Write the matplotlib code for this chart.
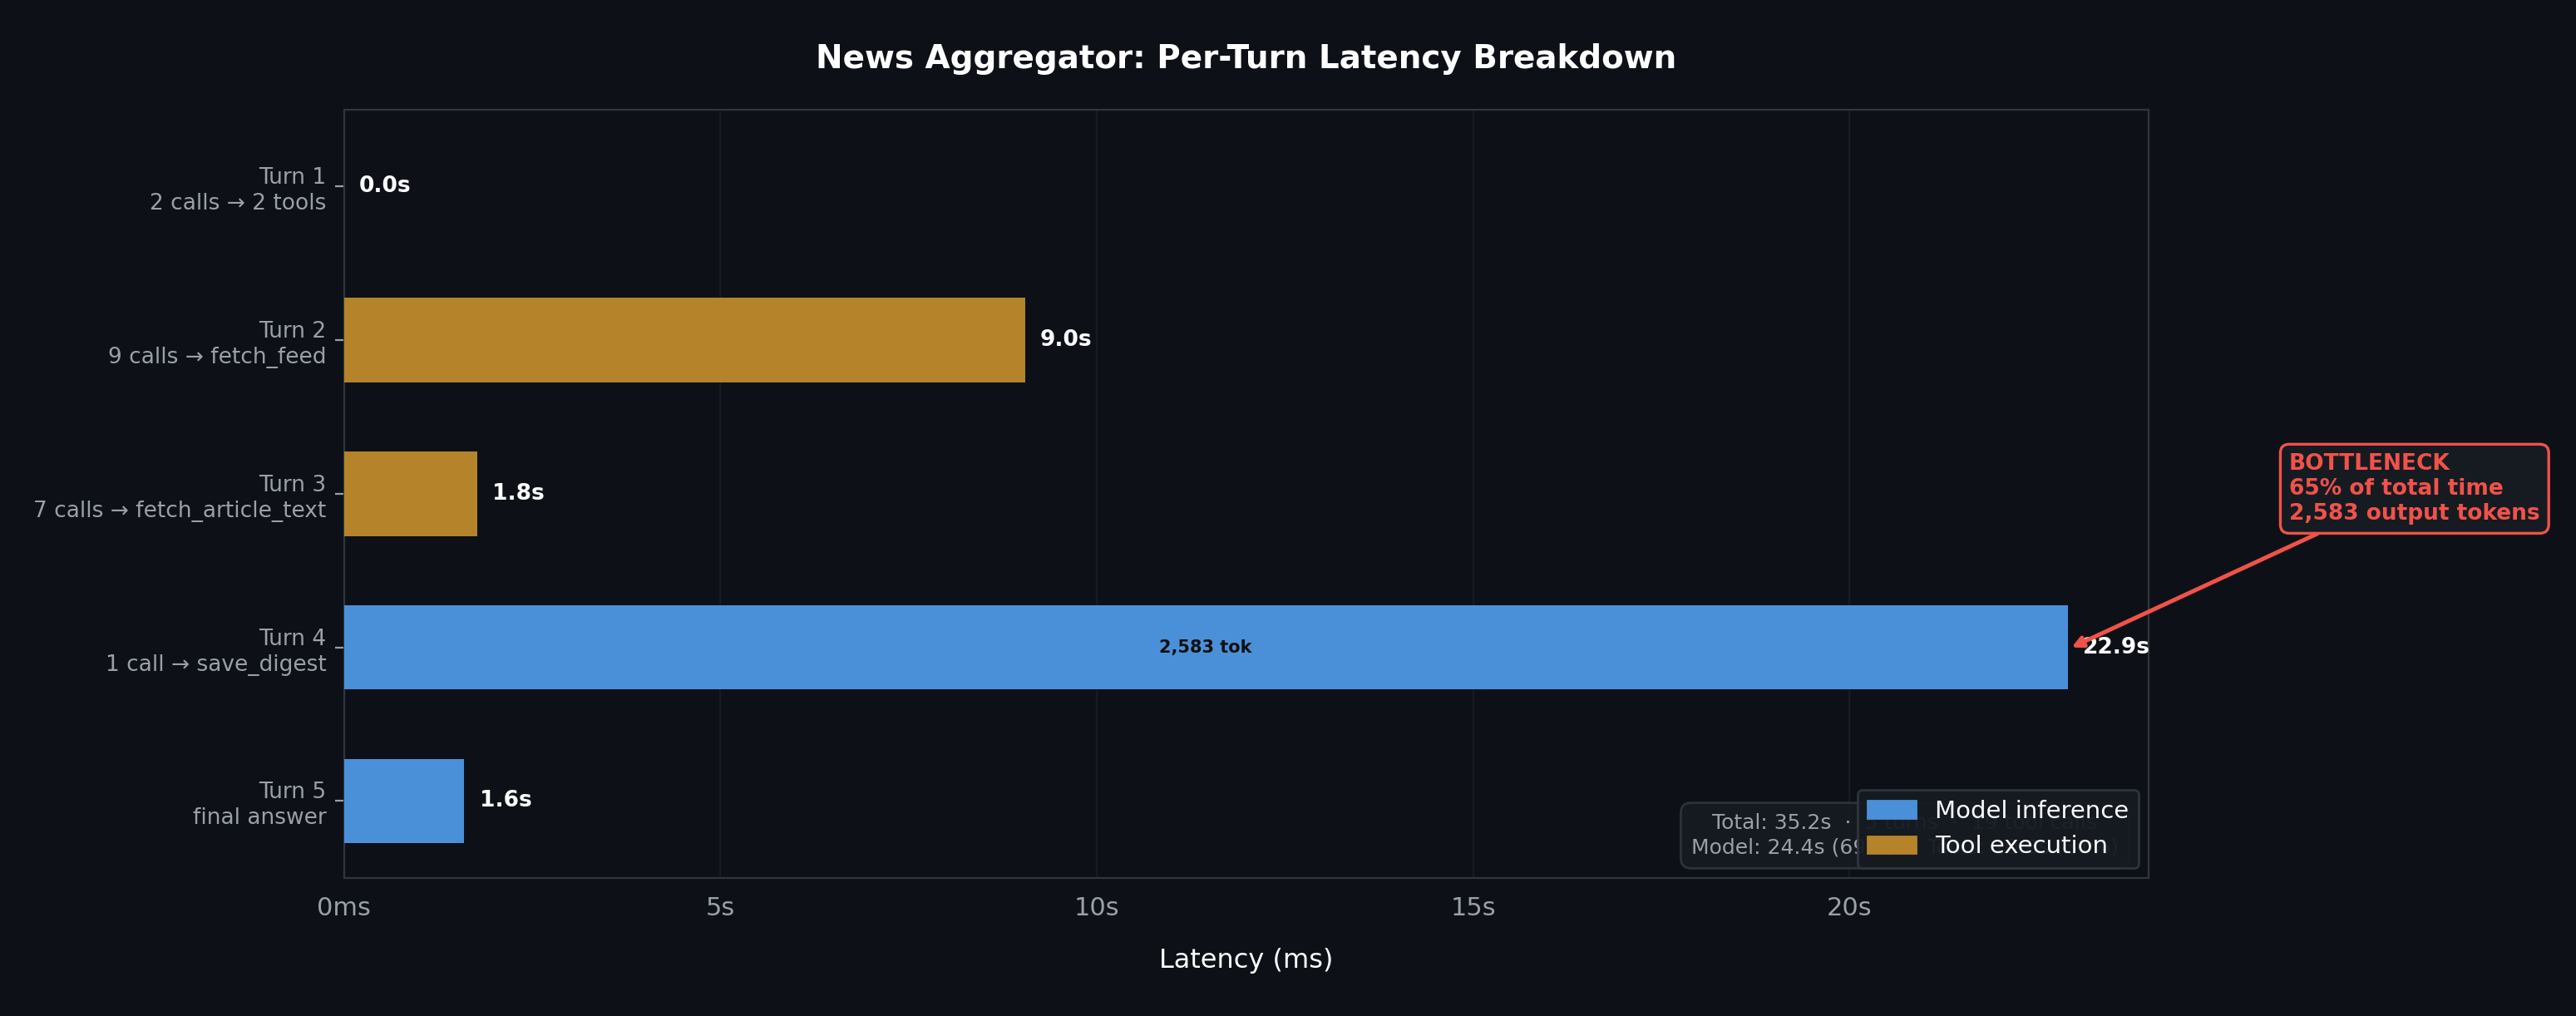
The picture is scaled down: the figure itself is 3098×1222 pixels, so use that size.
import matplotlib
matplotlib.use("Agg")
import matplotlib.pyplot as plt
from matplotlib.patches import Patch

turns = ["Turn 1\n2 calls → 2 tools", "Turn 2\n9 calls → fetch_feed", "Turn 3\n7 calls → fetch_article_text",
         "Turn 4\n1 call → save_digest", "Turn 5\nfinal answer"]
latency_ms = [5, 9050, 1770, 22900, 1600]
kinds = ["model", "tool", "tool", "model", "model"]
value_labels = ["0.0s", "9.0s", "1.8s", "22.9s", "1.6s"]
tick_vals = [0, 5000, 10000, 15000, 20000]
tick_labels = ["0ms", "5s", "10s", "15s", "20s"]

BG = "#0d1117"
COL = {"model": "#4a90d9", "tool": "#b5832a"}
GREY = "#9aa0a8"

fig = plt.figure(figsize=(15.49, 6.11), dpi=200, facecolor=BG)
ax = fig.add_axes([0.1335, 0.136, 0.7005, 0.756])
ax.set_facecolor(BG)
ypos = list(range(len(turns)))
ax.barh(ypos, latency_ms, height=0.55, color=[COL[k] for k in kinds], zorder=3)
ax.set_ylim(4.5, -0.5)
ax.set_xlim(0, 23970)
ax.set_yticks(ypos)
ax.set_yticklabels(turns, color=GREY, fontsize=9.5, linespacing=1.25)
ax.set_xticks(tick_vals)
ax.set_xticklabels(tick_labels, color=GREY, fontsize=11)
ax.tick_params(axis="x", colors="#30363d", labelcolor=GREY, length=0, pad=8)
ax.tick_params(axis="y", colors=GREY, length=4, width=0.8)
ax.grid(axis="x", color="#161b22", linewidth=0.8, zorder=0)
for s in ax.spines.values():
    s.set_color("#30363d")
for y, v, lab in zip(ypos, latency_ms, value_labels):
    ax.text(v + 200, y, lab, va="center", ha="left", color="white", fontsize=9.5, fontweight="bold", zorder=4)
ax.text(latency_ms[3] / 2, 3, "2,583 tok", ha="center", va="center", color="#111111", fontsize=7.5, fontweight="bold", zorder=4)

ax.set_xlabel("Latency (ms)", color="white", fontsize=11.5, labelpad=12)
ax.set_title("News Aggregator: Per-Turn Latency Breakdown", color="white", fontsize=14, fontweight="bold", pad=18)

ax.annotate("BOTTLENECK\n65% of total time\n2,583 output tokens",
            xy=(latency_ms[3] + 50, 3), xytext=(1.078, 0.46), textcoords="axes fraction",
            color="#f0524a", fontsize=9.5, fontweight="bold", va="bottom", ha="left", linespacing=1.2,
            bbox=dict(boxstyle="round,pad=0.4", fc="#161b22", ec="#f0524a", lw=1.2),
            arrowprops=dict(arrowstyle="-|>", color="#f0524a", lw=1.8, shrinkA=0, shrinkB=0),
            annotation_clip=False, zorder=6)

ax.text(0.865, 0.055, "Total: 35.2s  ·  5 turns  ·  19 tool calls\nModel: 24.4s (69%)  ·  Tools: 10.8s (31%)",
        transform=ax.transAxes, ha="center", va="center", color=GREY, fontsize=9, linespacing=1.3,
        bbox=dict(boxstyle="round,pad=0.5", fc="#161b22", ec="#30363d", alpha=0.9), zorder=5)

handles = [Patch(color=COL["model"], label="Model inference"), Patch(color=COL["tool"], label="Tool execution")]
leg = ax.legend(handles=handles, loc="lower right", fontsize=10.5, facecolor="#161b22", edgecolor="#30363d",
                labelcolor="white", framealpha=0.95, borderaxespad=0.4)
leg.set_zorder(7)

fig.savefig("out.png", dpi=200, facecolor=BG)
